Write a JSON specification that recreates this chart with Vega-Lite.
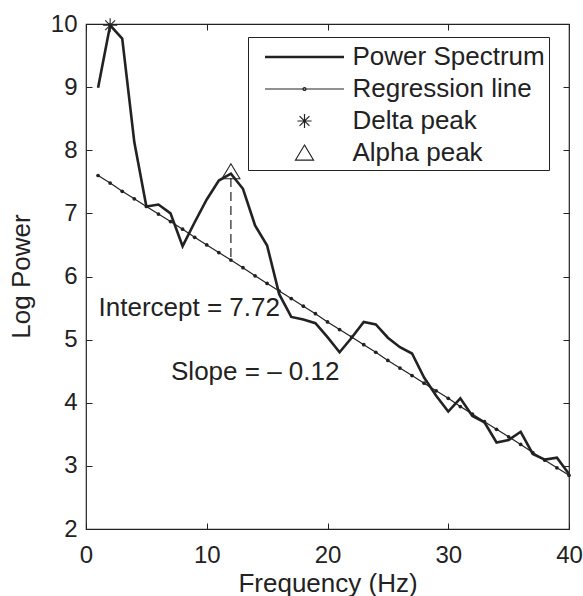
{
  "$schema": "https://vega.github.io/schema/vega-lite/v6.json",
  "width": 483,
  "height": 505,
  "autosize": "none",
  "padding": {"left": 86, "top": 24, "right": 14, "bottom": 67},
  "background": "white",
  "datasets": {
    "spectrum": [
      {"f": 1, "power": 8.99, "fit": 7.60},
      {"f": 2, "power": 9.98, "fit": 7.48},
      {"f": 3, "power": 9.77, "fit": 7.35},
      {"f": 4, "power": 8.13, "fit": 7.23},
      {"f": 5, "power": 7.11, "fit": 7.11},
      {"f": 6, "power": 7.14, "fit": 6.99},
      {"f": 7, "power": 7.00, "fit": 6.87},
      {"f": 8, "power": 6.48, "fit": 6.75},
      {"f": 9, "power": 6.86, "fit": 6.62},
      {"f": 10, "power": 7.22, "fit": 6.50},
      {"f": 11, "power": 7.52, "fit": 6.38},
      {"f": 12, "power": 7.63, "fit": 6.26},
      {"f": 13, "power": 7.39, "fit": 6.14},
      {"f": 14, "power": 6.81, "fit": 6.01},
      {"f": 15, "power": 6.49, "fit": 5.89},
      {"f": 16, "power": 5.72, "fit": 5.77},
      {"f": 17, "power": 5.36, "fit": 5.65},
      {"f": 18, "power": 5.32, "fit": 5.53},
      {"f": 19, "power": 5.26, "fit": 5.41},
      {"f": 20, "power": 5.04, "fit": 5.28},
      {"f": 21, "power": 4.80, "fit": 5.16},
      {"f": 22, "power": 5.03, "fit": 5.04},
      {"f": 23, "power": 5.28, "fit": 4.92},
      {"f": 24, "power": 5.24, "fit": 4.80},
      {"f": 25, "power": 5.03, "fit": 4.67},
      {"f": 26, "power": 4.88, "fit": 4.55},
      {"f": 27, "power": 4.78, "fit": 4.43},
      {"f": 28, "power": 4.40, "fit": 4.31},
      {"f": 29, "power": 4.11, "fit": 4.19},
      {"f": 30, "power": 3.86, "fit": 4.07},
      {"f": 31, "power": 4.07, "fit": 3.94},
      {"f": 32, "power": 3.79, "fit": 3.82},
      {"f": 33, "power": 3.69, "fit": 3.70},
      {"f": 34, "power": 3.37, "fit": 3.58},
      {"f": 35, "power": 3.41, "fit": 3.46},
      {"f": 36, "power": 3.54, "fit": 3.34},
      {"f": 37, "power": 3.19, "fit": 3.21},
      {"f": 38, "power": 3.10, "fit": 3.09},
      {"f": 39, "power": 3.13, "fit": 2.97},
      {"f": 40, "power": 2.87, "fit": 2.85}
    ],
    "peaks": [
      {"f": 2, "power": 9.98, "series": "Delta peak"},
      {"f": 12, "power": 7.66, "series": "Alpha peak"}
    ],
    "marker": [
      {"f": 12, "top": 7.56, "bottom": 6.26}
    ],
    "notes": [
      {"f": 1.04, "power": 5.37, "label": "Intercept = 7.72"},
      {"f": 7.04, "power": 4.36, "label": "Slope = – 0.12"}
    ]
  },
  "config": {
    "font": "Liberation Sans",
    "view": {"stroke": "#222", "strokeWidth": 1.2},
    "axis": {
      "domain": false,
      "grid": false,
      "labelFlush": false,
      "labelFont": "Liberation Sans",
      "labelFontSize": 24,
      "labelColor": "#222",
      "tickColor": "#222",
      "tickSize": -6,
      "tickWidth": 1,
      "titleFont": "Liberation Sans",
      "titleFontSize": 26,
      "titleFontWeight": "normal",
      "titleColor": "#222"
    },
    "legend": {
      "labelFont": "Liberation Sans",
      "labelFontSize": 26,
      "labelColor": "#222",
      "labelLimit": 0
    }
  },
  "layer": [
    {
      "data": {"name": "spectrum"},
      "mark": {"type": "line", "color": "#222", "strokeWidth": 2.6},
      "encoding": {
        "x": {
          "field": "f", "type": "quantitative",
          "scale": {"domain": [0, 40], "nice": false, "zero": false},
          "axis": {"orient": "bottom", "values": [0, 10, 20, 30, 40], "labelPadding": 20, "title": "Frequency (Hz)", "titleBaseline": "alphabetic", "titleY": 62}
        },
        "y": {
          "field": "power", "type": "quantitative",
          "scale": {"domain": [2, 10], "nice": false, "zero": false},
          "axis": {"orient": "left", "values": [2, 3, 4, 5, 6, 7, 8, 9, 10], "labelPadding": 15, "title": "Log Power", "titleBaseline": "alphabetic", "titleX": -57, "titleY": 252}
        }
      }
    },
    {
      "data": {"name": "spectrum"},
      "mark": {"type": "line", "color": "#222", "strokeWidth": 1.2, "point": {"filled": true, "size": 14, "color": "#222"}},
      "encoding": {
        "x": {"field": "f", "type": "quantitative", "axis": {"orient": "top", "values": [0, 10, 20, 30, 40], "labels": false, "title": null}},
        "y": {"field": "fit", "type": "quantitative", "axis": {"orient": "right", "values": [2, 3, 4, 5, 6, 7, 8, 9, 10], "labels": false, "title": null}}
      }
    },
    {
      "data": {"name": "marker"},
      "mark": {"type": "rule", "color": "#222", "strokeWidth": 1.2, "strokeDash": [9, 5]},
      "encoding": {
        "x": {"field": "f", "type": "quantitative", "axis": null},
        "y": {"field": "top", "type": "quantitative", "axis": null},
        "y2": {"field": "bottom"}
      }
    },
    {
      "data": {"name": "peaks"},
      "mark": {"type": "point", "filled": false, "size": 900, "color": "#222", "strokeWidth": 1.1, "opacity": 1},
      "encoding": {
        "x": {"field": "f", "type": "quantitative", "axis": null},
        "y": {"field": "power", "type": "quantitative", "axis": null},
        "shape": {
          "field": "series", "type": "nominal",
          "scale": {
            "domain": ["Power Spectrum", "Regression line", "Delta peak", "Alpha peak"],
            "range": [
              "M-2.633,-0.05L2.633,-0.05M-2.633,0L2.633,0M-2.633,0.05L2.633,0.05",
              "M-2.633,0L2.633,0M-0.1,0A0.1,0.1,0,1,1,0.1,0A0.1,0.1,0,1,1,-0.1,0Z",
              "M0,-0.47L0,0.47M-0.47,0L0.47,0M-0.33,-0.33L0.33,0.33M-0.33,0.33L0.33,-0.33",
              "M0,-0.53L0.6,0.47L-0.6,0.47Z"
            ]
          },
          "legend": {
            "orient": "none",
            "legendX": 162,
            "legendY": 13,
            "title": null,
            "columns": 1,
            "symbolSize": 900,
            "symbolOffset": 36.5,
            "labelOffset": 32,
            "rowPadding": 3,
            "padding": 4,
            "strokeColor": "#222",
            "fillColor": "white",
            "symbolStrokeColor": "#222",
            "symbolStrokeWidth": 1.2,
            "symbolFillColor": "transparent"
          }
        }
      }
    },
    {
      "data": {"name": "notes"},
      "mark": {"type": "text", "align": "left", "baseline": "alphabetic", "fontSize": 26, "font": "Liberation Sans", "color": "#222"},
      "encoding": {
        "x": {"field": "f", "type": "quantitative", "axis": null},
        "y": {"field": "power", "type": "quantitative", "axis": null},
        "text": {"field": "label"}
      }
    }
  ],
  "resolve": {"axis": {"x": "independent", "y": "independent"}}
}
